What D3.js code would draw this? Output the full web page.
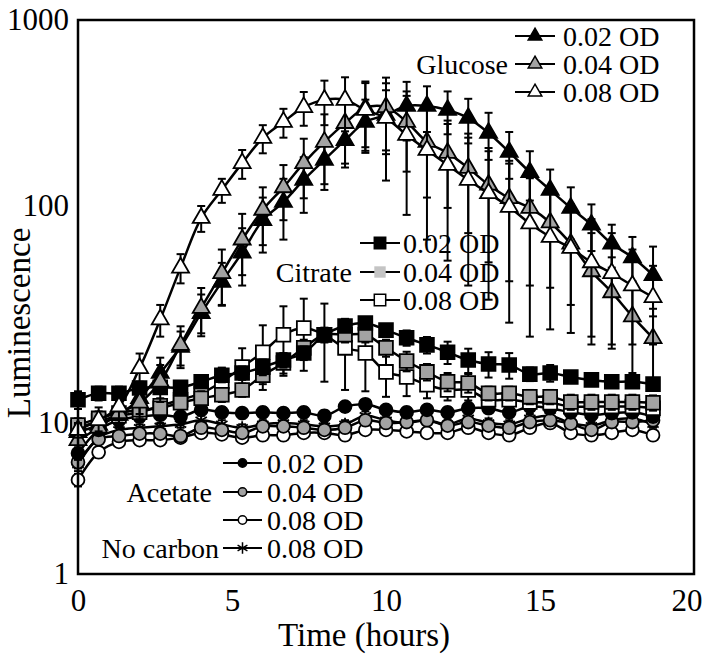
<!DOCTYPE html>
<html>
<head>
<meta charset="utf-8">
<script src="https://cdn.jsdelivr.net/npm/d3@7"></script>
<style>
  body { margin: 0; background: #fff; }
  svg { display: block; }
</style>
</head>
<body>
<div id="container"></div>
<script>
// sampling times (hours), one reading every 40 min
const times = [0, 0.67, 1.33, 2, 2.67, 3.33, 4, 4.67, 5.33, 6, 6.67, 7.33, 8, 8.67, 9.33,
  10, 10.67, 11.33, 12, 12.67, 13.33, 14, 14.67, 15.33, 16, 16.67, 17.33, 18, 18.67];

const yTicks = [1, 10, 100, 1000];
const xTicks = [0, 5, 10, 15, 20];

// Glucose
const glucose02 = [8.7, 9.7, 10.9, 13.0, 17.0, 22.4, 32.1, 44.7, 61, 86, 105, 138, 177, 226, 283,
  309, 345, 345, 328, 297, 247, 195, 152, 122, 98, 82, 67, 58, 48];
const glucose02Err = [1, 1, 1.5, 2, 3, 4, 7, 10, 18, 25, 35, 45, 55, 65, 90,
  110, 120, 95, 85, 80, 70, 55, 45, 35, 28, 20, 15, 14, 17];
const glucose04 = [7.7, 9.3, 11.1, 12.4, 15.5, 22.9, 33.9, 49, 70, 96, 126, 170, 221, 279, 337,
  340, 283, 221, 193, 160, 130, 110, 98, 84, 67, 50, 40, 31, 24.6];
const glucose04Err = [1, 1, 1.5, 2, 3, 5, 8, 14, 22, 30, 40, 60, 90, 110, 130,
  150, 130, 110, 95, 85, 75, 65, 55, 42, 32, 25, 18, 14, 9];
const glucose08 = [9.0, 10.3, 11.9, 17.9, 30, 52, 88, 122, 170, 232, 283, 340, 372, 372, 328,
  297, 241, 200, 166, 138, 117, 99, 83, 72, 64, 55, 49, 43, 38];
const glucose08Err = [1, 1.5, 2, 3, 5, 8, 12, 18, 30, 40, 50, 70, 100, 120, 130,
  160, 150, 130, 110, 95, 80, 70, 58, 45, 38, 32, 26, 20, 15];

// Citrate
const citrate02 = [12.8, 13.7, 13.7, 14.5, 14.6, 14.6, 15.5, 16.6, 17.0, 18.1, 19.5, 21.0, 25.5, 28.0, 28.9,
  26.8, 24.7, 22.9, 21.2, 19.5, 18.7, 18.5, 16.8, 17.0, 16.3, 15.8, 15.5, 15.5, 15.1];
const citrate02Err = [1.2, 1, 1, 1, 1, 1, 1, 1.2, 1.2, 1.5, 1.5, 1.5, 1.5, 1.5, 1.5,
  1.5, 2, 2, 2.5, 2.5, 2.5, 2.5, 1.2, 1.5, 1, 1, 1, 1, 1];
const citrate04 = [9.7, 10.5, 11.1, 11.5, 11.7, 12.4, 13.0, 13.5, 14.2, 16.6, 18.9, 22.2, 25.5, 25.5, 25.5,
  22.2, 19.3, 17.2, 15.5, 15.3, 13.7, 13.7, 13.2, 13.2, 12.5, 12.5, 12.5, 12.5, 12.4];
const citrate04Err = [0.8, 0.8, 0.8, 0.8, 0.8, 0.8, 1, 1, 1, 1.5, 2, 2, 2, 2, 2,
  2, 2, 1.5, 1.5, 1.5, 1, 1, 1, 1, 1, 1, 1, 1, 1];
const citrate08 = [9.3, 10.2, 10.8, 11.2, 12.0, 12.8, 13.7, 15.5, 18.1, 21.2, 25.5, 27.4, 25.5, 22.2, 21.0,
  17.2, 16.3, 15.0, 14.2, 14.2, 12.8, 12.8, 12.5, 12.4, 11.9, 11.9, 11.9, 11.9, 11.7];
const citrate08Err = [0.8, 0.8, 0.8, 1, 1, 1, 1.5, 2.5, 4, 7, 9, 10, 10, 8, 7,
  4, 3, 2, 1.5, 1.5, 1, 1, 1, 1, 1, 1, 1, 1, 1];

// Acetate and no carbon
const acetate02 = [6.3, 9.0, 10.3, 10.7, 10.9, 10.7, 11.5, 11.2, 11.1, 11.2, 11.1, 11.2, 10.8, 11.9, 12.2,
  11.5, 11.2, 11.5, 11.2, 11.7, 11.7, 11.2, 11.9, 11.7, 11.2, 10.9, 11.1, 11.2, 10.7];
const acetate02Err = [0.6, 0.6, 0.6, 0.6, 0.6, 0.6, 0.6, 0.6, 0.6, 0.6, 0.6, 0.6, 0.6, 0.6, 0.6,
  0.6, 0.6, 0.6, 0.6, 0.6, 0.6, 0.6, 0.6, 0.6, 0.6, 0.6, 0.6, 0.6, 0.6];
const acetate04 = [5.5, 7.8, 8.2, 8.5, 8.5, 8.2, 9.3, 9.0, 8.6, 9.5, 9.5, 9.3, 9.0, 9.3, 10.3,
  10.0, 10.1, 10.3, 9.6, 10.1, 9.6, 9.3, 10.1, 10.3, 9.9, 9.0, 10.1, 10.1, 10.3];
const acetate04Err = [0.5, 0.5, 0.5, 0.5, 0.5, 0.5, 0.5, 0.5, 0.5, 0.5, 0.5, 0.5, 0.5, 0.5, 0.5,
  0.5, 0.5, 0.5, 0.5, 0.5, 0.5, 0.5, 0.5, 0.5, 0.5, 0.5, 0.5, 0.5, 0.5];
const acetate08 = [4.2, 6.4, 7.5, 7.7, 7.7, 8.0, 8.6, 8.4, 8.0, 8.3, 8.3, 8.6, 8.6, 8.3, 9.0,
  9.0, 8.8, 8.6, 8.6, 9.3, 8.6, 8.3, 9.3, 10.0, 8.6, 8.3, 8.6, 9.0, 8.3];
const acetate08Err = [0.4, 0.5, 0.5, 0.5, 0.5, 0.5, 0.5, 0.5, 0.5, 0.5, 0.5, 0.5, 0.5, 0.5, 0.5,
  0.5, 0.5, 0.5, 0.5, 0.5, 0.5, 0.5, 0.5, 0.5, 0.5, 0.5, 0.5, 0.5, 0.5];
const noCarbon08 = [5.3, 8.0, 9.0, 9.3, 9.5, 9.8, 10.3, 9.8, 9.3, 9.8, 10.0, 9.8, 9.5, 9.8, 10.8,
  10.3, 10.0, 10.3, 9.8, 10.5, 10.0, 9.8, 10.5, 10.8, 10.0, 9.6, 10.3, 10.5, 9.8];
const noCarbon08Err = [0.5, 0.5, 0.5, 0.5, 0.5, 0.5, 0.5, 0.5, 0.5, 0.5, 0.5, 0.5, 0.5, 0.5, 0.5,
  0.5, 0.5, 0.5, 0.5, 0.5, 0.5, 0.5, 0.5, 0.5, 0.5, 0.5, 0.5, 0.5, 0.5];

const serif = "'Liberation Serif', 'Times New Roman', serif";
const gray = "#a3a3a3";
const asterisk = d3.symbolAsterisk || d3.symbolCross;

// drawing order: bottom group first
const series = [
  { values: noCarbon08, err: noCarbon08Err, type: asterisk, size: 120, fill: "none" },
  { values: acetate08, err: acetate08Err, type: d3.symbolCircle, size: 130, fill: "#fff" },
  { values: acetate04, err: acetate04Err, type: d3.symbolCircle, size: 130, fill: gray },
  { values: acetate02, err: acetate02Err, type: d3.symbolCircle, size: 130, fill: "#000" },
  { values: citrate08, err: citrate08Err, type: d3.symbolSquare, size: 190, fill: "#fff" },
  { values: citrate04, err: citrate04Err, type: d3.symbolSquare, size: 190, fill: gray },
  { values: citrate02, err: citrate02Err, type: d3.symbolSquare, size: 190, fill: "#000" },
  { values: glucose02, err: glucose02Err, type: d3.symbolTriangle, size: 125, fill: "#000" },
  { values: glucose04, err: glucose04Err, type: d3.symbolTriangle, size: 125, fill: gray },
  { values: glucose08, err: glucose08Err, type: d3.symbolTriangle, size: 125, fill: "#fff" }
];

const legends = [
  { group: "Glucose", gx: 508, x0: 515, x1: 555, tx: 563, rows: [
    { y: 36, label: "0.02 OD", type: d3.symbolTriangle, size: 80, fill: "#000" },
    { y: 64, label: "0.04 OD", type: d3.symbolTriangle, size: 80, fill: gray, gy: true },
    { y: 92, label: "0.08 OD", type: d3.symbolTriangle, size: 80, fill: "#fff" }] },
  { group: "Citrate", gx: 352, x0: 360, x1: 400, tx: 403, rows: [
    { y: 243, label: "0.02 OD", type: d3.symbolSquare, size: 130, fill: "#000" },
    { y: 272, label: "0.04 OD", type: d3.symbolSquare, size: 130, fill: "#c4c4c4", noStroke: true, gy: true },
    { y: 300, label: "0.08 OD", type: d3.symbolSquare, size: 130, fill: "#fff" }] },
  { group: "Acetate", gx: 212, x0: 223, x1: 262, tx: 267, rows: [
    { y: 463, label: "0.02 OD", type: d3.symbolCircle, size: 55, fill: "#000" },
    { y: 492, label: "0.04 OD", type: d3.symbolCircle, size: 55, fill: gray, gy: true },
    { y: 520, label: "0.08 OD", type: d3.symbolCircle, size: 55, fill: "#fff" }] },
  { group: "No carbon", gx: 219, x0: 223, x1: 262, tx: 267, rows: [
    { y: 548, label: "0.08 OD", type: asterisk, size: 90, fill: "none", gy: true }] }
];

const width = 708, height = 658;
const svg = d3.select("#container").append("svg")
    .attr("width", width)
    .attr("height", height)
    .attr("font-family", serif);

const x = d3.scaleLinear().domain([0, 20]).range([78, 694]);
// the printed axis has its decades unevenly spaced, so the log scale is piecewise
const y = d3.scaleLog().domain([1, 10, 100, 1000]).range([574, 423, 206, 20]);

// axes
svg.append("g")
    .attr("transform", "translate(78,0)")
    .call(d3.axisLeft(y).tickValues(yTicks).tickFormat(d3.format("d")).tickSize(0).tickPadding(9))
    .call(g => g.select(".domain").remove())
    .attr("font-family", serif)
    .attr("font-size", 31)
    .selectAll("text").attr("fill", "#000");

const xAxis = svg.append("g")
    .attr("transform", "translate(0,574)")
    .call(d3.axisBottom(x).tickValues(xTicks).tickSize(0).tickPadding(15))
    .call(g => g.select(".domain").remove())
    .attr("font-family", serif)
    .attr("font-size", 31);
xAxis.selectAll("text").attr("fill", "#000");
xAxis.selectAll(".tick").filter(d => d === 20).select("text")
    .attr("text-anchor", "end").attr("x", 8);

svg.append("text")
    .attr("x", 364).attr("y", 646)
    .attr("text-anchor", "middle")
    .attr("font-size", 33)
    .text("Time (hours)");

svg.append("text")
    .attr("transform", "translate(30,323) rotate(-90)")
    .attr("text-anchor", "middle")
    .attr("font-size", 33)
    .text("Luminescence");

// series
const line = d3.line()
    .x((d, i) => x(times[i]))
    .y(d => y(d))
    .curve(d3.curveCatmullRom.alpha(0.5));

series.forEach(s => {
  const g = svg.append("g");
  const bars = g.append("g").attr("stroke", "#000").attr("stroke-width", 2);
  s.values.forEach((v, i) => {
    const cx = x(times[i]);
    const top = y(v + s.err[i]), bot = y(Math.max(v - s.err[i], 1.05));
    bars.append("line").attr("x1", cx).attr("x2", cx).attr("y1", top).attr("y2", bot);
    bars.append("line").attr("x1", cx - 4).attr("x2", cx + 4).attr("y1", top).attr("y2", top);
    bars.append("line").attr("x1", cx - 4).attr("x2", cx + 4).attr("y1", bot).attr("y2", bot);
  });
  g.append("path")
      .attr("d", line(s.values))
      .attr("fill", "none")
      .attr("stroke", "#000")
      .attr("stroke-width", 2.5);
  g.append("g").selectAll("path")
    .data(s.values)
    .join("path")
      .attr("transform", (d, i) => `translate(${x(times[i])},${y(d)})`)
      .attr("d", d3.symbol(s.type, s.size))
      .attr("fill", s.fill)
      .attr("stroke", "#000")
      .attr("stroke-width", 1.8);
});

// frame
svg.append("rect")
    .attr("x", 78).attr("y", 20)
    .attr("width", 616).attr("height", 554)
    .attr("fill", "none")
    .attr("stroke", "#000")
    .attr("stroke-width", 2.5);

// legends
legends.forEach(L => {
  const g = svg.append("g").attr("font-size", 28);
  L.rows.forEach(r => {
    if (r.gy) g.append("text")
        .attr("x", L.gx).attr("y", r.y).attr("dy", "0.35em")
        .attr("text-anchor", "end")
        .text(L.group);
    g.append("line")
        .attr("x1", L.x0).attr("x2", L.x1)
        .attr("y1", r.y).attr("y2", r.y)
        .attr("stroke", "#000").attr("stroke-width", 2);
    g.append("path")
        .attr("transform", `translate(${(L.x0 + L.x1) / 2},${r.y})`)
        .attr("d", d3.symbol(r.type, r.size))
        .attr("fill", r.fill)
        .attr("stroke", r.noStroke ? "none" : "#000")
        .attr("stroke-width", 1.5);
    g.append("text")
        .attr("x", L.tx).attr("y", r.y).attr("dy", "0.35em")
        .text(r.label);
  });
});
</script>
</body>
</html>
